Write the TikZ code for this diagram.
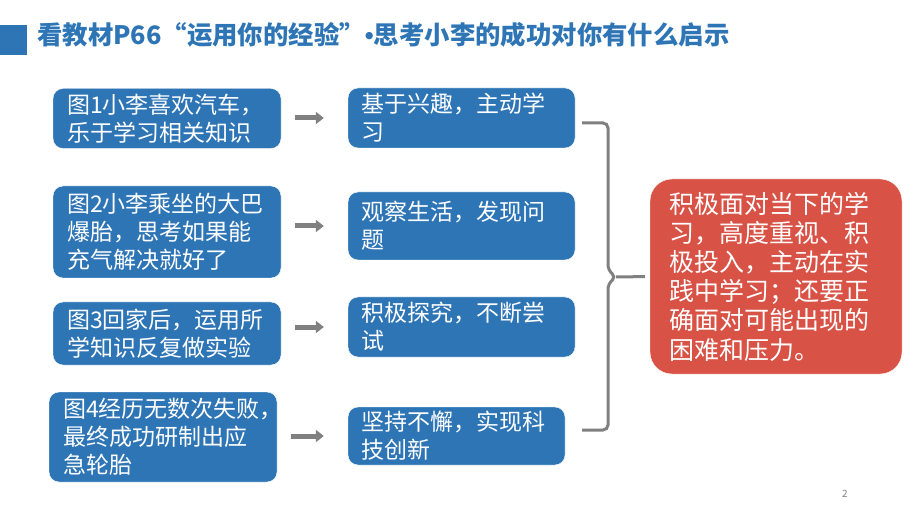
\documentclass[tikz,border=0pt]{standalone}
\usepackage{fontspec}
\setmainfont{Noto Sans CJK SC}
\newfontfamily\dotfont{Liberation Sans}
\usepackage{tikz}
\usetikzlibrary{arrows.meta}
\definecolor{pptBlue}{RGB}{46,117,182}
\definecolor{pptRed}{RGB}{217,82,70}
\definecolor{arrGray}{RGB}{128,128,128}

\begin{document}
\begin{tikzpicture}[
  x=1pt, y=-1pt,
  font=\fontsize{23}{28}\selectfont,
  box/.style={draw=white, thin, fill=pptBlue, rounded corners=10pt, text=white,
              align=left, text width=200pt, minimum height=60pt,
              inner xsep=14pt, inner ysep=3pt},
  resbox/.style={draw=white, thin, fill=pptRed, rounded corners=22pt, text=white,
              align=left, text width=214pt, minimum height=195pt,
              inner xsep=19pt, inner ysep=3pt, font=\fontsize{25}{29.2}\selectfont},
  title/.style={anchor=west, text=pptBlue, inner sep=0pt,
              font=\fontsize{25.4}{30}\selectfont\bfseries},
  arr/.style={-{Triangle[length=8pt,width=12pt]}, line width=5pt, arrGray,
              shorten <=14pt, shorten >=24pt},
  brace/.style={line width=3pt, arrGray, rounded corners=5pt}
]
\useasboundingbox (0,0) rectangle (920,518);

% title bar
\fill[pptBlue] (0,25) rectangle (27,55);
\node[title] (title) at (37,35)
  {看教材P66“运用你的经验”{\dotfont•}思考小李的成功对你有什么启示};

% pictures
\node[box] (l1) at (167,118.5) {图1小李喜欢汽车，\\乐于学习相关知识};
\node[box, minimum height=92pt] (l2) at (167,232)
  {图2小李乘坐的大巴\\爆胎，思考如果能\\充气解决就好了};
\node[box, minimum height=63pt] (l3) at (167,333.5)
  {图3回家后，运用所\\学知识反复做实验};
\node[box, minimum height=90pt] (l4) at (163,437)
  {图4经历无数次失败，\\最终成功研制出应\\急轮胎};

% what it shows
\node[box, text width=200pt, inner xsep=13.5pt] (m1) at (461.5,118)
  {基于兴趣，主动学\\习};
\node[box, minimum height=68pt, inner xsep=13.5pt] (m2) at (461.5,226)
  {观察生活，发现问\\题};
\node[box, inner xsep=13.5pt] (m3) at (461.5,327)
  {积极探究，不断尝\\试};
\node[box, text width=190pt, minimum height=58pt, inner xsep=13.5pt] (m4) at (456.5,436)
  {坚持不懈，实现科\\技创新};

% conclusion
\node[resbox] (res) at (776,276.5)
  {积极面对当下的学\\习，高度重视、积\\极投入，主动在实\\践中学习；还要正\\确面对可能出现的\\困难和压力。};

\draw[arr] (l1.east |- m1.west) -- (m1.west);
\draw[arr] (l2.east |- m2.west) -- (m2.west);
\draw[arr] (l3.east |- m3.west) -- (m3.west);
\draw[arr] (l4.east |- m4.west) -- (m4.west);

% brace
\coordinate (btop) at (582,123);
\coordinate (bbot) at (582,430);
\coordinate (btip) at (616,277);
\draw[brace] (btop) -- (608,123) -- (608,270) -- (btip) -- (608,284)
  -- (608,430) -- (bbot);
\draw[brace, rounded corners=0pt, shorten >=5pt] (btip) -- (res.west);

\node[text=arrGray, font=\fontsize{10}{12}\selectfont] (pg) at (845,494) {2};
\end{tikzpicture}
\end{document}
